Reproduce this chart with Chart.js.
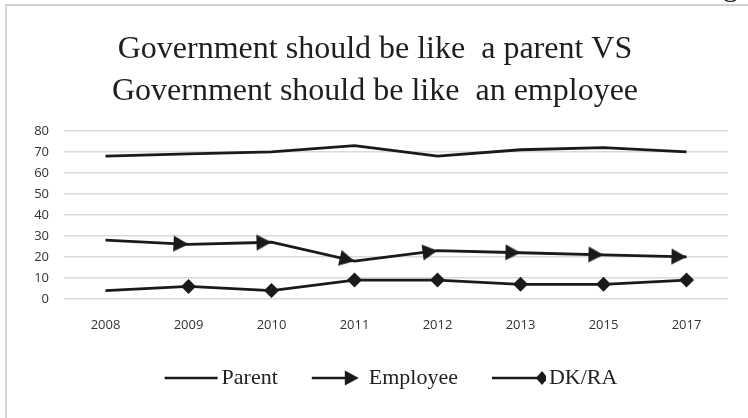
<!DOCTYPE html>
<html>
<head>
<meta charset="utf-8">
<title>Government should be like a parent VS Government should be like an employee</title>
<script src="https://cdn.jsdelivr.net/npm/chart.js@4.4.1/dist/chart.umd.min.js"></script>
<style>
    html, body { margin: 0; padding: 0; background: #fff; }
    #wrap { width: 748px; height: 418px; position: relative; }
</style>
</head>
<body>
<div id="wrap"><canvas id="lineChart" width="748" height="418"></canvas></div>
<script>
// survey years and shares (%)
var years = ['2008', '2009', '2010', '2011', '2012', '2013', '2015', '2017'];
var parentData = [68, 69, 70, 73, 68, 71, 72, 70];
var employeeData = [28, 26, 27, 18, 23, 22, 21, 20];
var dkraData = [4, 6, 4, 9, 9, 7, 7, 9];
var yTicks = [0, 10, 20, 30, 40, 50, 60, 70, 80];

var ink = '#1a1a1a';

// arrow head with its tip at the centre of the canvas
function makeArrow() {
    var c = document.createElement('canvas');
    c.width = 34; c.height = 18;
    var g = c.getContext('2d');
    g.fillStyle = ink;
    g.beginPath();
    g.moveTo(17, 9);
    g.lineTo(2, 1);
    g.lineTo(2, 17);
    g.closePath();
    g.fill();
    return c;
}

// legend swatch: line with optional marker at its right end
function makeSwatch(kind) {
    var c = document.createElement('canvas');
    c.width = 70; c.height = 18;
    var g = c.getContext('2d');
    g.strokeStyle = ink;
    g.fillStyle = ink;
    g.lineWidth = 2.5;
    g.beginPath();
    if (kind === 'arrow') {
        g.moveTo(16, 9); g.lineTo(52, 9); g.stroke();
        g.beginPath();
        g.moveTo(63, 9); g.lineTo(49, 1.5); g.lineTo(49, 16.5); g.closePath(); g.fill();
    } else if (kind === 'diamond') {
        g.moveTo(16, 9); g.lineTo(64, 9); g.stroke();
        g.beginPath();
        g.moveTo(66, 2); g.lineTo(72, 9); g.lineTo(66, 16); g.lineTo(60, 9); g.closePath(); g.fill();
    } else {
        g.moveTo(16, 9); g.lineTo(69, 9); g.stroke();
    }
    return c;
}

var arrowImg = makeArrow();
var swatches = [makeSwatch('line'), makeSwatch('arrow'), makeSwatch('diamond')];

// rotate the arrow along the incoming segment
function segAngle(ctx) {
    var i = ctx.dataIndex;
    if (i < 1) return 0;
    var chart = ctx.chart;
    var xs = chart.scales.x, ys = chart.scales.y;
    var data = chart.data.datasets[ctx.datasetIndex].data;
    var dx = xs.getPixelForValue(i) - xs.getPixelForValue(i - 1);
    var dy = ys.getPixelForValue(data[i]) - ys.getPixelForValue(data[i - 1]);
    return Math.atan2(dy, dx) * 180 / Math.PI;
}

// frame lines, the cut-off letter above the chart, and centring of title/legend
var framePlugin = {
    id: 'frame',
    afterLayout: function (chart) {
        if (chart.titleBlock) { chart.titleBlock.left += 11; chart.titleBlock.right += 11; }
        if (chart.legend) { chart.legend.left += 23; chart.legend.right += 23; }
    },
    beforeDraw: function (chart) {
        var c = chart.ctx;
        c.save();
        c.fillStyle = '#fff';
        c.fillRect(0, 0, chart.width, chart.height);
        c.fillStyle = '#d4d4d4';
        c.fillRect(5, 4, chart.width - 5, 2);
        c.fillRect(5, 4, 2, chart.height - 4);
        c.fillStyle = '#222';
        c.font = '30px "Liberation Serif"';
        c.textBaseline = 'alphabetic';
        c.fillText('g', 723, -4);
        c.restore();
    }
};

var ctx = document.getElementById('lineChart');
var myLineChart = new Chart(ctx, {
    type: 'line',
    data: {
        labels: years,
        datasets: [
            {
                label: 'Parent',
                data: parentData,
                borderColor: ink,
                borderWidth: 2.8,
                pointRadius: 0,
                pointHoverRadius: 0,
                tension: 0
            },
            {
                label: 'Employee',
                data: employeeData,
                borderColor: ink,
                backgroundColor: ink,
                borderWidth: 2.8,
                pointStyle: function (c) { return c.dataIndex === 0 ? false : arrowImg; },
                pointRotation: segAngle,
                pointRadius: 9,
                tension: 0
            },
            {
                label: 'DK/RA',
                data: dkraData,
                borderColor: ink,
                backgroundColor: ink,
                borderWidth: 2.8,
                pointStyle: 'rectRot',
                pointRadius: function (c) { return c.dataIndex === 0 ? 0 : 7.5; },
                pointBorderWidth: 0,
                tension: 0
            }
        ]
    },
    options: {
        responsive: false,
        animation: false,
        devicePixelRatio: 1,
        layout: { padding: { top: 23, right: 20, bottom: 19, left: 0 } },
        plugins: {
            tooltip: { enabled: false },
            title: {
                display: true,
                text: ['Government should be like  a parent VS', 'Government should be like  an employee'],
                color: '#1e1e1e',
                font: { family: '"Liberation Serif", serif', size: 32, weight: 'normal', lineHeight: 1.31 },
                padding: { top: 6, bottom: 18 }
            },
            legend: {
                position: 'bottom',
                labels: {
                    usePointStyle: true,
                    pointStyleWidth: 54,
                    boxHeight: 18,
                    padding: 26,
                    color: '#222',
                    font: { family: '"Liberation Serif", serif', size: 22 },
                    generateLabels: function (chart) {
                        var items = Chart.defaults.plugins.legend.labels.generateLabels(chart);
                        items.forEach(function (it, i) {
                            it.pointStyle = swatches[i];
                            it.rotation = 0;
                        });
                        return items;
                    }
                }
            }
        },
        scales: {
            x: {
                offset: true,
                afterFit: function (axis) { axis.height = 42; },
                grid: { display: false },
                border: { display: false },
                ticks: {
                    color: '#333',
                    padding: 10,
                    maxRotation: 0,
                    font: { family: '"Open Sans"', size: 13 }
                }
            },
            y: {
                min: 0,
                max: 80,
                afterBuildTicks: function (axis) {
                    axis.ticks = yTicks.map(function (v) { return { value: v }; });
                },
                afterFit: function (axis) { axis.width = 64; },
                grid: { color: '#d9d9d9', lineWidth: 1.5, drawTicks: false },
                border: { display: false },
                ticks: {
                    color: '#333',
                    padding: 15,
                    font: { family: '"Open Sans"', size: 13 }
                }
            }
        }
    },
    plugins: [framePlugin]
});
</script>
</body>
</html>
